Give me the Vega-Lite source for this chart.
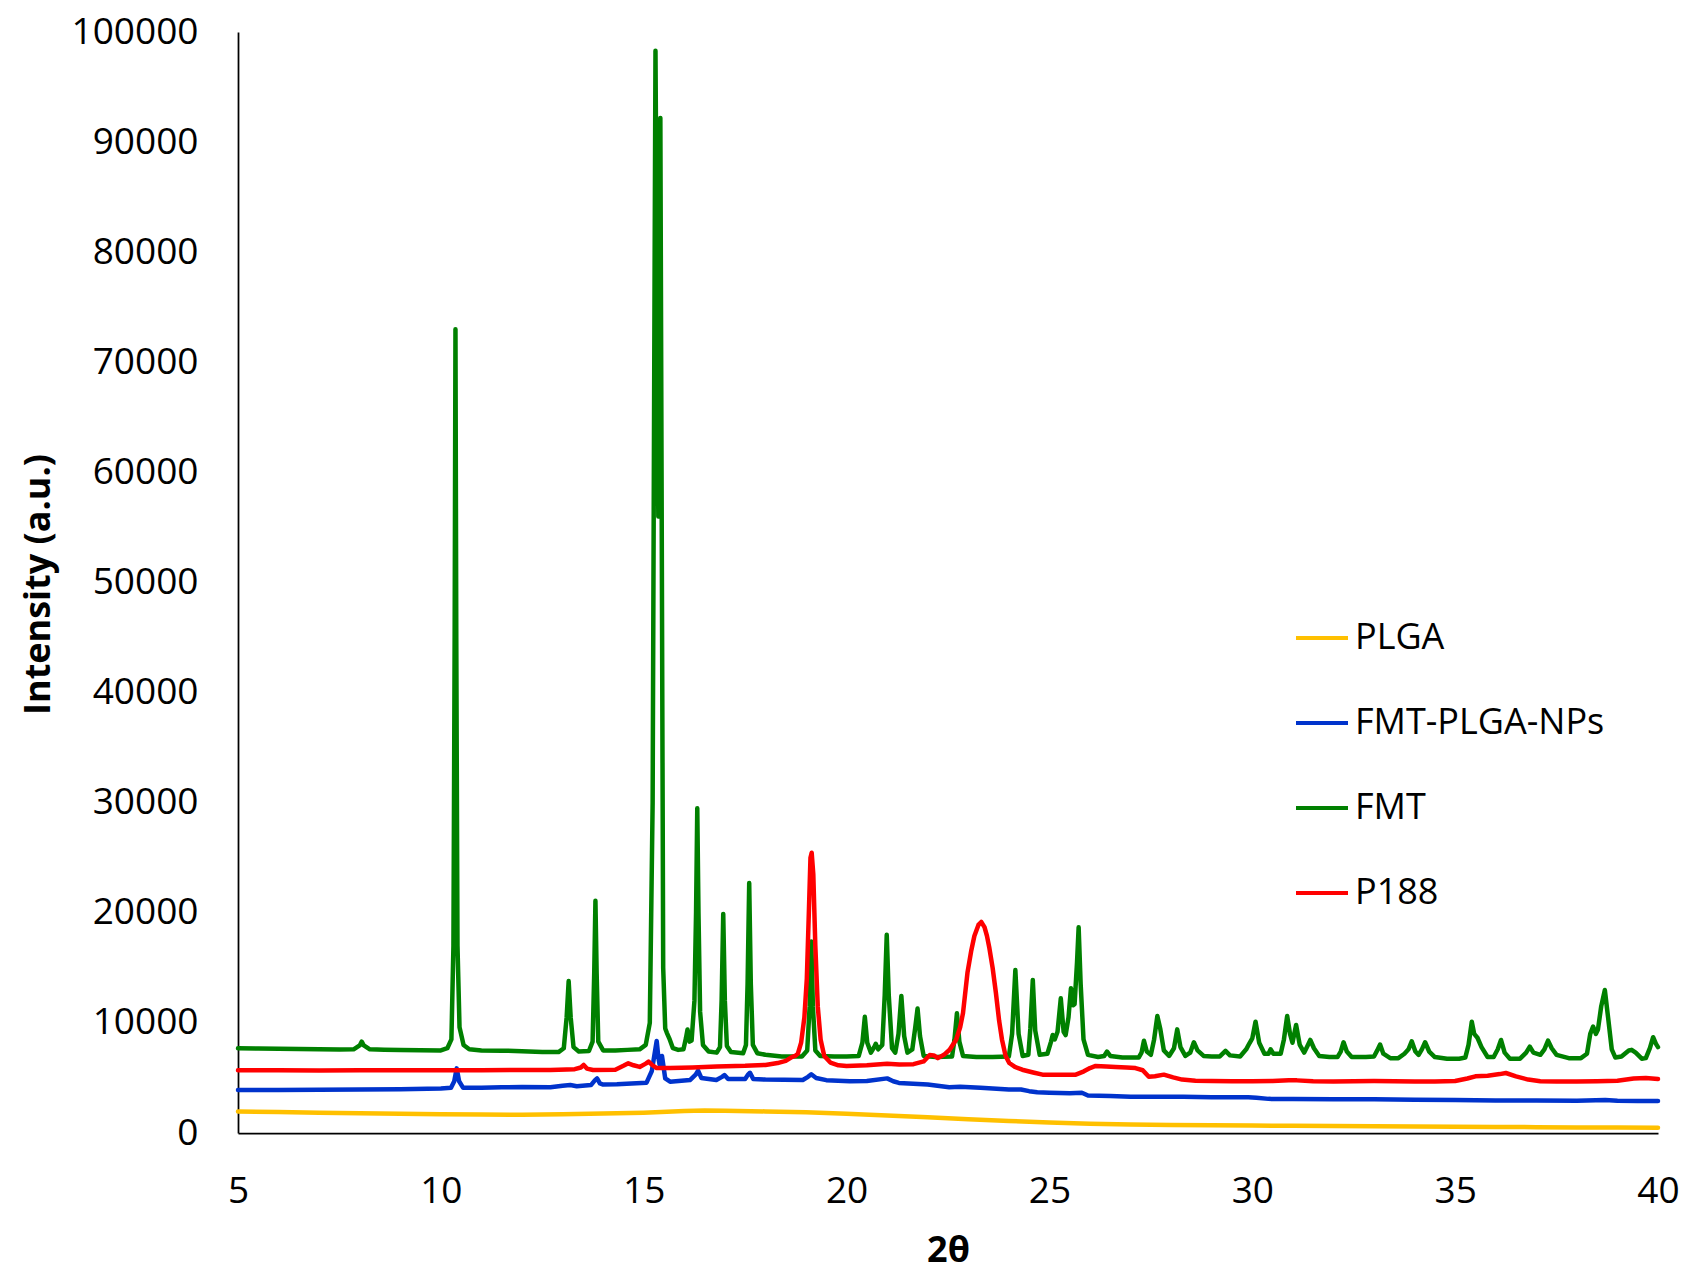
{
  "$schema": "https://vega.github.io/schema/vega-lite/v6.json",
  "width": 1420,
  "height": 1101,
  "autosize": {"type": "none"},
  "padding": {"left": 238, "top": 32, "right": 32, "bottom": 140},
  "background": "white",
  "config": {
    "view": {"stroke": null},
    "font": "Open Sans",
    "axis": {"grid": false, "ticks": false, "labelFlush": false, "labelOverlap": false, "domainColor": "#000000", "domainWidth": 1.75, "labelFont": "Open Sans", "labelFontSize": 37, "labelColor": "#000000", "titleFont": "Open Sans", "titleFontWeight": "bold", "titleFontSize": 36, "titleColor": "#000000"},
    "legend": {"labelFont": "Open Sans", "labelFontSize": 36, "labelColor": "#000000"}
  },
  "datasets": {
    "plga": [
      {"x":5.0,"y":1950},{"x":6.0,"y":1900},{"x":7.0,"y":1850},{"x":8.0,"y":1800},{"x":9.0,"y":1750},{"x":10.0,"y":1700},{"x":11.0,"y":1680},{"x":12.0,"y":1660},{"x":13.0,"y":1700},{"x":14.0,"y":1780},{"x":15.0,"y":1850},{"x":16.0,"y":2000},{"x":16.5,"y":2050},{"x":17.0,"y":2030},{"x":18.0,"y":1960},{"x":19.0,"y":1880},{"x":20.0,"y":1750},{"x":21.0,"y":1600},{"x":22.0,"y":1420},{"x":23.0,"y":1250},{"x":24.0,"y":1100},{"x":25.0,"y":950},{"x":26.0,"y":850},{"x":27.0,"y":780},{"x":28.0,"y":730},{"x":29.0,"y":700},{"x":30.0,"y":680},{"x":31.0,"y":650},{"x":32.0,"y":630},{"x":33.0,"y":610},{"x":34.0,"y":590},{"x":35.0,"y":570},{"x":36.0,"y":550},{"x":37.0,"y":530},{"x":38.0,"y":510},{"x":39.0,"y":490},{"x":40.0,"y":470}
    ],
    "nps": [
      {"x":5.0,"y":3900},{"x":6.0,"y":3900},{"x":7.0,"y":3920},{"x":8.0,"y":3950},{"x":9.0,"y":3980},{"x":10.0,"y":4050},{"x":10.25,"y":4100},{"x":10.33,"y":4700},{"x":10.39,"y":5870},{"x":10.45,"y":4700},{"x":10.55,"y":4100},{"x":11.0,"y":4100},{"x":11.5,"y":4150},{"x":12.0,"y":4180},{"x":12.7,"y":4150},{"x":13.0,"y":4300},{"x":13.19,"y":4360},{"x":13.35,"y":4250},{"x":13.7,"y":4350},{"x":13.8,"y":4800},{"x":13.85,"y":4960},{"x":13.92,"y":4500},{"x":14.0,"y":4400},{"x":14.34,"y":4420},{"x":14.7,"y":4500},{"x":15.07,"y":4570},{"x":15.2,"y":5630},{"x":15.26,"y":7000},{"x":15.32,"y":8360},{"x":15.36,"y":6900},{"x":15.39,"y":6240},{"x":15.45,"y":7000},{"x":15.53,"y":4960},{"x":15.65,"y":4660},{"x":16.14,"y":4810},{"x":16.28,"y":5300},{"x":16.34,"y":5660},{"x":16.42,"y":5000},{"x":16.79,"y":4810},{"x":16.93,"y":5100},{"x":16.99,"y":5260},{"x":17.08,"y":4900},{"x":17.5,"y":4900},{"x":17.57,"y":5300},{"x":17.62,"y":5470},{"x":17.7,"y":4900},{"x":18.0,"y":4850},{"x":18.92,"y":4810},{"x":19.05,"y":5100},{"x":19.13,"y":5330},{"x":19.25,"y":5000},{"x":19.5,"y":4800},{"x":20.08,"y":4700},{"x":20.5,"y":4720},{"x":21.0,"y":4960},{"x":21.15,"y":4700},{"x":21.29,"y":4550},{"x":22.0,"y":4400},{"x":22.53,"y":4150},{"x":22.8,"y":4210},{"x":23.3,"y":4100},{"x":24.0,"y":3950},{"x":24.3,"y":3950},{"x":24.5,"y":3800},{"x":24.7,"y":3700},{"x":25.0,"y":3650},{"x":25.5,"y":3600},{"x":25.8,"y":3650},{"x":25.95,"y":3400},{"x":26.5,"y":3350},{"x":27.0,"y":3300},{"x":28.0,"y":3300},{"x":28.3,"y":3300},{"x":29.0,"y":3250},{"x":29.9,"y":3240},{"x":30.1,"y":3200},{"x":30.4,"y":3100},{"x":31.0,"y":3080},{"x":32.0,"y":3060},{"x":33.0,"y":3060},{"x":34.0,"y":3020},{"x":35.0,"y":3000},{"x":35.5,"y":2980},{"x":36.0,"y":2950},{"x":37.0,"y":2950},{"x":38.0,"y":2930},{"x":38.7,"y":3000},{"x":39.0,"y":2920},{"x":39.5,"y":2900},{"x":40.0,"y":2900}
    ],
    "fmt": [
      {"x":5.0,"y":7700},{"x":5.5,"y":7680},{"x":6.0,"y":7650},{"x":6.5,"y":7620},{"x":7.0,"y":7600},{"x":7.5,"y":7580},{"x":7.85,"y":7600},{"x":8.0,"y":7950},{"x":8.05,"y":8300},{"x":8.1,"y":7950},{"x":8.25,"y":7600},{"x":8.6,"y":7560},{"x":9.0,"y":7540},{"x":9.5,"y":7520},{"x":10.0,"y":7500},{"x":10.16,"y":7700},{"x":10.26,"y":8500},{"x":10.31,"y":17000},{"x":10.34,"y":45000},{"x":10.36,"y":73000},{"x":10.38,"y":45000},{"x":10.41,"y":17000},{"x":10.46,"y":9600},{"x":10.56,"y":8000},{"x":10.7,"y":7600},{"x":11.0,"y":7500},{"x":11.5,"y":7480},{"x":12.0,"y":7430},{"x":12.5,"y":7350},{"x":12.9,"y":7350},{"x":13.03,"y":7700},{"x":13.1,"y":10500},{"x":13.15,"y":13800},{"x":13.2,"y":10500},{"x":13.27,"y":7800},{"x":13.4,"y":7400},{"x":13.65,"y":7450},{"x":13.74,"y":8300},{"x":13.78,"y":14500},{"x":13.81,"y":21100},{"x":13.84,"y":14500},{"x":13.88,"y":8300},{"x":14.0,"y":7500},{"x":14.3,"y":7500},{"x":14.6,"y":7550},{"x":14.9,"y":7600},{"x":15.05,"y":8000},{"x":15.15,"y":10000},{"x":15.22,"y":30000},{"x":15.27,"y":80000},{"x":15.29,"y":98300},{"x":15.32,"y":80000},{"x":15.36,"y":56000},{"x":15.39,"y":80000},{"x":15.41,"y":92200},{"x":15.44,"y":60000},{"x":15.48,"y":15000},{"x":15.53,"y":9500},{"x":15.57,"y":9100},{"x":15.63,"y":8600},{"x":15.72,"y":7700},{"x":15.85,"y":7550},{"x":15.98,"y":7600},{"x":16.04,"y":8600},{"x":16.08,"y":9400},{"x":16.13,"y":8300},{"x":16.18,"y":8400},{"x":16.25,"y":12000},{"x":16.29,"y":20000},{"x":16.32,"y":29500},{"x":16.35,"y":20000},{"x":16.39,"y":11000},{"x":16.46,"y":8000},{"x":16.6,"y":7400},{"x":16.8,"y":7300},{"x":16.88,"y":7800},{"x":16.92,"y":12000},{"x":16.96,"y":19900},{"x":17.0,"y":12000},{"x":17.05,"y":7900},{"x":17.15,"y":7350},{"x":17.45,"y":7250},{"x":17.52,"y":8000},{"x":17.56,"y":13500},{"x":17.6,"y":22700},{"x":17.64,"y":13500},{"x":17.69,"y":8000},{"x":17.8,"y":7250},{"x":18.0,"y":7100},{"x":18.4,"y":6950},{"x":18.9,"y":6950},{"x":19.03,"y":7500},{"x":19.09,"y":11500},{"x":19.13,"y":17400},{"x":19.17,"y":11500},{"x":19.23,"y":7500},{"x":19.35,"y":7000},{"x":19.7,"y":6950},{"x":20.0,"y":6950},{"x":20.3,"y":7000},{"x":20.39,"y":8200},{"x":20.45,"y":10550},{"x":20.51,"y":8200},{"x":20.6,"y":7300},{"x":20.68,"y":7800},{"x":20.72,"y":8100},{"x":20.78,"y":7600},{"x":20.88,"y":8000},{"x":20.94,"y":12500},{"x":20.99,"y":18000},{"x":21.04,"y":12500},{"x":21.12,"y":7700},{"x":21.2,"y":7300},{"x":21.28,"y":9000},{"x":21.35,"y":12450},{"x":21.42,"y":8800},{"x":21.5,"y":7300},{"x":21.62,"y":7600},{"x":21.69,"y":9500},{"x":21.75,"y":11300},{"x":21.81,"y":8800},{"x":21.9,"y":7000},{"x":22.2,"y":6900},{"x":22.6,"y":6950},{"x":22.66,"y":8500},{"x":22.72,"y":10870},{"x":22.78,"y":8300},{"x":22.87,"y":7000},{"x":23.2,"y":6900},{"x":23.6,"y":6900},{"x":24.0,"y":6950},{"x":24.08,"y":9000},{"x":24.16,"y":14800},{"x":24.24,"y":9000},{"x":24.34,"y":7000},{"x":24.48,"y":7100},{"x":24.53,"y":9500},{"x":24.59,"y":13900},{"x":24.65,"y":9300},{"x":24.76,"y":7100},{"x":24.95,"y":7200},{"x":25.04,"y":8300},{"x":25.08,"y":8900},{"x":25.13,"y":8500},{"x":25.2,"y":9200},{"x":25.28,"y":12230},{"x":25.35,"y":9200},{"x":25.4,"y":8900},{"x":25.47,"y":10500},{"x":25.53,"y":13140},{"x":25.58,"y":11600},{"x":25.62,"y":11700},{"x":25.68,"y":15500},{"x":25.72,"y":18680},{"x":25.77,"y":13500},{"x":25.84,"y":8500},{"x":25.95,"y":7100},{"x":26.2,"y":6900},{"x":26.35,"y":7000},{"x":26.42,"y":7400},{"x":26.5,"y":7000},{"x":26.8,"y":6850},{"x":27.2,"y":6850},{"x":27.27,"y":7300},{"x":27.33,"y":8380},{"x":27.4,"y":7400},{"x":27.5,"y":7100},{"x":27.58,"y":8500},{"x":27.66,"y":10620},{"x":27.73,"y":9500},{"x":27.82,"y":7500},{"x":27.95,"y":7000},{"x":28.07,"y":7700},{"x":28.15,"y":9410},{"x":28.23,"y":7800},{"x":28.35,"y":7000},{"x":28.47,"y":7300},{"x":28.56,"y":8240},{"x":28.65,"y":7500},{"x":28.8,"y":7000},{"x":29.0,"y":6950},{"x":29.2,"y":6950},{"x":29.34,"y":7450},{"x":29.45,"y":7050},{"x":29.7,"y":6950},{"x":29.85,"y":7600},{"x":29.93,"y":8150},{"x":30.0,"y":8600},{"x":30.08,"y":10110},{"x":30.17,"y":8200},{"x":30.3,"y":7200},{"x":30.4,"y":7200},{"x":30.45,"y":7600},{"x":30.52,"y":7200},{"x":30.7,"y":7200},{"x":30.78,"y":8500},{"x":30.86,"y":10630},{"x":30.93,"y":9000},{"x":30.99,"y":8200},{"x":31.08,"y":9810},{"x":31.17,"y":8000},{"x":31.28,"y":7300},{"x":31.36,"y":7900},{"x":31.43,"y":8450},{"x":31.52,"y":7700},{"x":31.65,"y":7000},{"x":31.9,"y":6900},{"x":32.1,"y":6900},{"x":32.18,"y":7400},{"x":32.25,"y":8240},{"x":32.33,"y":7400},{"x":32.45,"y":6900},{"x":32.8,"y":6900},{"x":33.0,"y":6950},{"x":33.08,"y":7500},{"x":33.15,"y":8030},{"x":33.23,"y":7200},{"x":33.4,"y":6800},{"x":33.6,"y":6800},{"x":33.75,"y":7200},{"x":33.85,"y":7600},{"x":33.93,"y":8330},{"x":34.02,"y":7400},{"x":34.1,"y":7100},{"x":34.18,"y":7600},{"x":34.26,"y":8240},{"x":34.36,"y":7400},{"x":34.5,"y":6900},{"x":34.8,"y":6750},{"x":35.1,"y":6750},{"x":35.25,"y":6850},{"x":35.33,"y":8000},{"x":35.41,"y":10110},{"x":35.47,"y":9000},{"x":35.55,"y":8650},{"x":35.65,"y":7800},{"x":35.8,"y":6900},{"x":35.95,"y":6900},{"x":36.05,"y":7600},{"x":36.13,"y":8450},{"x":36.22,"y":7300},{"x":36.35,"y":6750},{"x":36.6,"y":6750},{"x":36.75,"y":7300},{"x":36.84,"y":7850},{"x":36.93,"y":7300},{"x":37.1,"y":7100},{"x":37.2,"y":7600},{"x":37.29,"y":8390},{"x":37.38,"y":7700},{"x":37.5,"y":7100},{"x":37.8,"y":6800},{"x":38.1,"y":6800},{"x":38.25,"y":7200},{"x":38.33,"y":9000},{"x":38.4,"y":9660},{"x":38.47,"y":9000},{"x":38.52,"y":9400},{"x":38.6,"y":11500},{"x":38.69,"y":12990},{"x":38.77,"y":10500},{"x":38.86,"y":7600},{"x":38.95,"y":6850},{"x":39.1,"y":6950},{"x":39.28,"y":7500},{"x":39.35,"y":7550},{"x":39.45,"y":7300},{"x":39.6,"y":6750},{"x":39.7,"y":6800},{"x":39.8,"y":7700},{"x":39.88,"y":8700},{"x":39.95,"y":8100},{"x":40.0,"y":7800}
    ],
    "p188": [
      {"x":5.0,"y":5700},{"x":6.0,"y":5700},{"x":7.0,"y":5680},{"x":8.0,"y":5700},{"x":9.0,"y":5690},{"x":10.0,"y":5700},{"x":11.0,"y":5710},{"x":12.0,"y":5720},{"x":12.7,"y":5720},{"x":13.3,"y":5800},{"x":13.45,"y":5950},{"x":13.52,"y":6180},{"x":13.6,"y":5850},{"x":13.75,"y":5720},{"x":14.3,"y":5750},{"x":14.5,"y":6100},{"x":14.62,"y":6330},{"x":14.75,"y":6150},{"x":14.9,"y":6000},{"x":15.05,"y":6300},{"x":15.12,"y":6480},{"x":15.2,"y":6200},{"x":15.32,"y":5900},{"x":15.65,"y":5900},{"x":16.2,"y":5950},{"x":16.8,"y":6050},{"x":17.5,"y":6100},{"x":18.0,"y":6180},{"x":18.3,"y":6350},{"x":18.5,"y":6550},{"x":18.65,"y":6900},{"x":18.73,"y":7000},{"x":18.8,"y":7200},{"x":18.88,"y":8200},{"x":18.96,"y":10500},{"x":19.02,"y":14000},{"x":19.07,"y":20000},{"x":19.11,"y":25000},{"x":19.14,"y":25460},{"x":19.18,"y":23500},{"x":19.23,"y":17000},{"x":19.29,"y":11500},{"x":19.36,"y":8500},{"x":19.45,"y":7000},{"x":19.6,"y":6400},{"x":19.8,"y":6150},{"x":20.0,"y":6090},{"x":20.5,"y":6150},{"x":21.0,"y":6300},{"x":21.3,"y":6220},{"x":21.65,"y":6250},{"x":21.9,"y":6500},{"x":22.05,"y":7080},{"x":22.15,"y":7050},{"x":22.25,"y":6800},{"x":22.4,"y":7100},{"x":22.54,"y":7560},{"x":22.7,"y":8470},{"x":22.8,"y":9600},{"x":22.87,"y":10900},{"x":22.98,"y":14560},{"x":23.07,"y":16500},{"x":23.15,"y":17900},{"x":23.25,"y":18900},{"x":23.32,"y":19170},{"x":23.4,"y":18700},{"x":23.46,"y":17900},{"x":23.52,"y":16800},{"x":23.6,"y":15000},{"x":23.68,"y":12750},{"x":23.76,"y":10200},{"x":23.83,"y":8500},{"x":23.92,"y":7000},{"x":24.01,"y":6360},{"x":24.15,"y":6000},{"x":24.33,"y":5750},{"x":24.6,"y":5500},{"x":24.83,"y":5300},{"x":25.2,"y":5300},{"x":25.65,"y":5300},{"x":25.85,"y":5600},{"x":26.0,"y":5900},{"x":26.14,"y":6090},{"x":26.4,"y":6050},{"x":26.63,"y":6000},{"x":26.9,"y":5950},{"x":27.12,"y":5900},{"x":27.3,"y":5700},{"x":27.45,"y":5100},{"x":27.6,"y":5150},{"x":27.82,"y":5300},{"x":28.05,"y":5050},{"x":28.27,"y":4850},{"x":28.6,"y":4750},{"x":29.0,"y":4720},{"x":29.5,"y":4700},{"x":30.0,"y":4700},{"x":30.5,"y":4720},{"x":30.9,"y":4800},{"x":31.1,"y":4780},{"x":31.5,"y":4700},{"x":32.0,"y":4680},{"x":32.5,"y":4700},{"x":33.0,"y":4720},{"x":33.5,"y":4700},{"x":34.0,"y":4680},{"x":34.5,"y":4680},{"x":35.0,"y":4720},{"x":35.3,"y":4950},{"x":35.5,"y":5150},{"x":35.8,"y":5200},{"x":36.1,"y":5350},{"x":36.25,"y":5450},{"x":36.5,"y":5150},{"x":36.8,"y":4850},{"x":37.1,"y":4700},{"x":37.5,"y":4680},{"x":38.0,"y":4680},{"x":38.5,"y":4700},{"x":39.0,"y":4750},{"x":39.4,"y":4950},{"x":39.7,"y":5000},{"x":40.0,"y":4900}
    ]
  },
  "encoding": {
    "x": {"field": "x", "type": "quantitative", "title": "2θ", "scale": {"domain": [5, 40], "nice": false, "zero": false},
      "axis": {"values": [5, 10, 15, 20, 25, 30, 35, 40], "labelPadding": 40, "titleX": 710, "titleY": 117, "titleBaseline": "middle", "titleAlign": "center"}},
    "y": {"field": "y", "type": "quantitative", "title": "Intensity (a.u.)", "scale": {"domain": [0, 100000], "nice": false},
      "axis": {"values": [0, 10000, 20000, 30000, 40000, 50000, 60000, 70000, 80000, 90000, 100000], "format": "d", "labelPadding": 40, "titleX": -200, "titleY": 552, "titleBaseline": "middle", "titleAlign": "center", "titleAngle": 270}}
  },
  "layer": [
    {"data": {"name": "plga"}, "mark": {"type": "line", "strokeWidth": 4.5, "strokeJoin": "round", "strokeCap": "round"},
      "encoding": {"color": {"datum": "PLGA", "type": "nominal",
        "scale": {"domain": ["PLGA", "FMT-PLGA-NPs", "FMT", "P188"], "range": ["#FFC000", "#0033CC", "#008000", "#FF0000"]},
        "legend": {"orient": "none", "legendX": 1056, "legendY": 578, "title": null, "padding": 0, "symbolType": "stroke", "symbolSize": 2704, "symbolStrokeWidth": 4, "labelOffset": 5, "rowPadding": 39, "labelLimit": 500, "labelFontSize": 36}}}},
    {"data": {"name": "nps"}, "mark": {"type": "line", "strokeWidth": 4.5, "strokeJoin": "round", "strokeCap": "round"},
      "encoding": {"color": {"datum": "FMT-PLGA-NPs", "type": "nominal"}}},
    {"data": {"name": "fmt"}, "mark": {"type": "line", "strokeWidth": 4.5, "strokeJoin": "round", "strokeCap": "round"},
      "encoding": {"color": {"datum": "FMT", "type": "nominal"}}},
    {"data": {"name": "p188"}, "mark": {"type": "line", "strokeWidth": 4.5, "strokeJoin": "round", "strokeCap": "round"},
      "encoding": {"color": {"datum": "P188", "type": "nominal"}}}
  ]
}
